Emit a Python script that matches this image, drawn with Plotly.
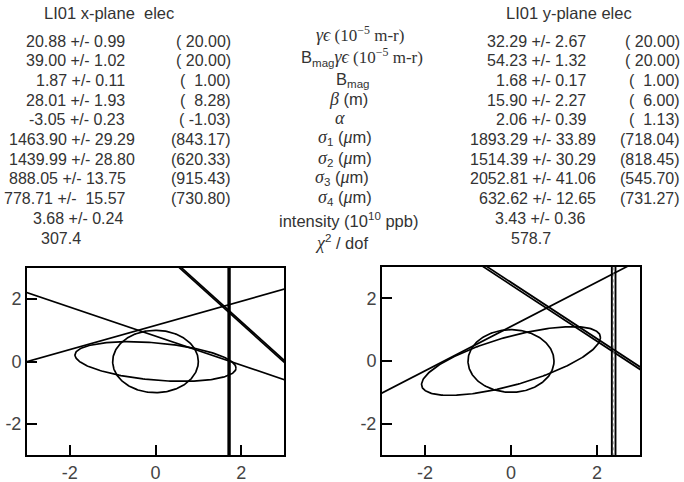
import numpy as np
import plotly.graph_objects as go

W, H = 684, 482

# ---------------- data ----------------
x_title = "LI01 x-plane  elec"
y_title = "LI01 y-plane elec"

x_fit = ["20.88 +/- 0.99", "39.00 +/- 1.02", "1.87 +/- 0.11", "28.01 +/- 1.93",
         "-3.05 +/- 0.23", "1463.90 +/- 29.29", "1439.99 +/- 28.80",
         "888.05 +/- 13.75", "778.71 +/-  15.57", "3.68 +/- 0.24", "307.4"]
x_design = ["( 20.00)", "( 20.00)", "(  1.00)", "(  8.28)", "( -1.03)",
            "(843.17)", "(620.33)", "(915.43)", "(730.80)"]

y_fit = ["32.29 +/- 2.67", "54.23 +/- 1.32", "1.68 +/- 0.17", "15.90 +/- 2.27",
         "2.06 +/- 0.39", "1893.29 +/- 33.89", "1514.39 +/- 30.29",
         "2052.81 +/- 41.06", "632.62 +/- 12.65", "3.43 +/- 0.36", "578.7"]
y_design = ["( 20.00)", "( 20.00)", "(  1.00)", "(  6.00)", "(  1.13)",
            "(718.04)", "(818.45)", "(545.70)", "(731.27)"]

SERIF = "font-family:'Liberation Serif','DejaVu Serif',serif"
def g(s):
    return f"<span style=\"{SERIF};font-size:18px\"><i>{s}</i></span>"
def sr(s):
    return f"<span style=\"{SERIF};font-size:17px\">{s}</span>"

param_labels = [
    f"{g('γϵ')}{sr(' (10<sup>−5</sup> m-r)')}",
    f"B<sub>mag</sub>{g('γϵ')}{sr(' (10<sup>−5</sup> m-r)')}",
    "B<sub>mag</sub>",
    f"{g('β')} (m)",
    f"{g('α')}",
    f"{g('σ')}<sub>1</sub> ({g('μ')}m)",
    f"{g('σ')}<sub>2</sub> ({g('μ')}m)",
    f"{g('σ')}<sub>3</sub> ({g('μ')}m)",
    f"{g('σ')}<sub>4</sub> ({g('μ')}m)",
    "intensity (10<sup>10</sup> ppb)",
    f"{g('χ')}<sup>2</sup> / dof",
]

# phase-space ellipses: (x amplitude A, y cos-coefficient C, y sin-coefficient B)
x_circle = [1.0, 0.0, 1.0]
x_beam = [1.88, -0.21, 0.60]
y_circle = [1.0, 0.0, 1.0]
y_beam = [2.08, 0.75, 0.80]

# wire lines  y = m x + b
x_line_m = [-0.465, 0.387, -1.24, -1.24]
x_line_b = [0.815, 1.16, 3.70, 3.76]
x_vlines = [1.70, 1.735]

y_line_m = [0.708, -0.899, -0.899]
y_line_b = [1.104, 2.43, 2.51]
y_vlines = [2.345, 2.43]
y_vline_mid = 2.39

tick_vals = [-2, 0, 2]
tick_text = ["-2", "0", "2"]
ax_range = [-3, 3]

# ---------------- layout positions ----------------
row_y = [41 + 19.7 * i for i in range(11)]
x_fit_right = [127, 127, 127, 127, 127, 137, 137, 128, 128, 125, 83]
y_fit_right = [588, 588, 588, 588, 588, 598, 598, 598, 598, 587, 553]
mid_x = [360, 362, 352, 348, 340, 345, 345, 342, 345, 348, 341]
mid_dy = [-7, -4, 0, -1, -2, -2, -1, -1, -1, 2, 4]

fig = go.Figure()

def ellipse(p):
    t = np.linspace(0, 2 * np.pi, 241)
    A, C, B = p
    return A * np.cos(t), C * np.cos(t) + B * np.sin(t)

line_style = dict(color="black", width=1.7)

def add_panel(xa, ya, circ, beam, ms, bs, vl):
    for p in (circ, beam):
        ex, ey = ellipse(p)
        fig.add_trace(go.Scatter(x=ex, y=ey, mode="lines", line=line_style,
                                 xaxis=xa, yaxis=ya, hoverinfo="skip"))
    xs = np.array(ax_range, dtype=float) * 1.2
    for m, b in zip(ms, bs):
        fig.add_trace(go.Scatter(x=xs, y=m * xs + b, mode="lines", line=line_style,
                                 xaxis=xa, yaxis=ya, hoverinfo="skip"))
    for v in vl:
        fig.add_trace(go.Scatter(x=[v, v], y=[-4, 4], mode="lines",
                                 line=dict(color="black", width=1.9),
                                 xaxis=xa, yaxis=ya, hoverinfo="skip"))

add_panel("x", "y", x_circle, x_beam, x_line_m, x_line_b, x_vlines)
add_panel("x2", "y2", y_circle, y_beam, y_line_m, y_line_b, y_vlines)
fig.add_trace(go.Scatter(x=[y_vline_mid, y_vline_mid], y=[-4, 4], mode="lines",
                         line=dict(color="#999", width=1, dash="dot"),
                         xaxis="x2", yaxis="y2", hoverinfo="skip"))

def px(x):
    return x / W
def py(y):
    return 1 - y / H

axis_common = dict(range=ax_range, showgrid=False, zeroline=False, showline=True,
                   linecolor="black", linewidth=2, mirror=True, ticks="inside",
                   ticklen=10, tickwidth=2, tickcolor="black",
                   tickvals=tick_vals, ticktext=tick_text,
                   tickfont=dict(size=18, color="#444", family="Liberation Sans, Arial"),
                   fixedrange=True)

fig.update_layout(
    width=W, height=H, margin=dict(l=0, r=0, t=0, b=0),
    paper_bgcolor="white", plot_bgcolor="white", showlegend=False,
    xaxis=dict(axis_common, domain=[px(27), px(284)], anchor="y"),
    yaxis=dict(axis_common, domain=[py(455), py(268)], anchor="x"),
    xaxis2=dict(axis_common, domain=[px(382), px(640)], anchor="y2"),
    yaxis2=dict(axis_common, domain=[py(455), py(267)], anchor="x2"),
    font=dict(family="Liberation Sans, Arial", color="#333", size=16),
)

ann = []
def text(x, y, s, anchor="center", size=16):
    ann.append(dict(x=px(x), y=py(y), xref="paper", yref="paper", text=s,
                    showarrow=False, xanchor=anchor, yanchor="middle",
                    font=dict(size=size, color="#333")))

text(109, 13, x_title, size=16.5)
text(569, 13, y_title, size=16.5)
for i, s in enumerate(x_fit):
    text(x_fit_right[i], row_y[i], s, "right")
for i, s in enumerate(x_design):
    text(233, row_y[i], s, "right")
for i, s in enumerate(y_fit):
    text(y_fit_right[i], row_y[i], s, "right")
for i, s in enumerate(y_design):
    text(682, row_y[i], s, "right")
for i, s in enumerate(param_labels):
    text(mid_x[i], row_y[i] + mid_dy[i], s, "center", 16.5)

fig.update_layout(annotations=ann)
fig.write_html("out.html")
